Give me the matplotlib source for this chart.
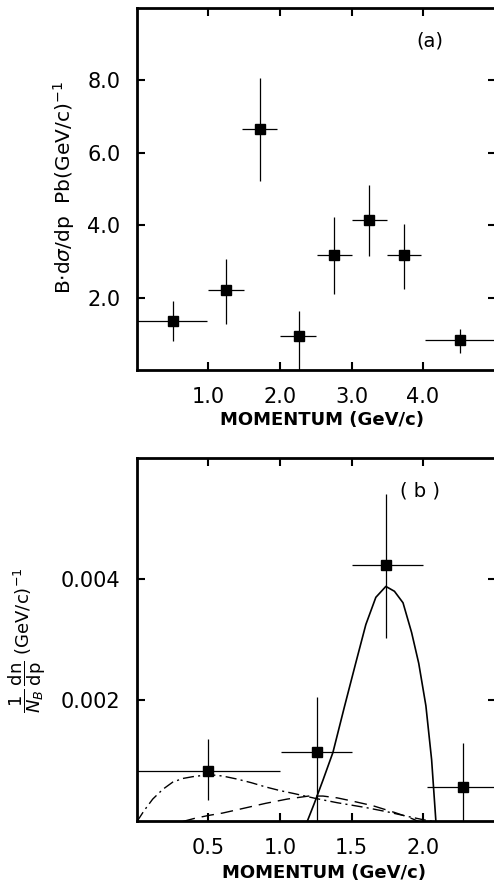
import numpy as np
import matplotlib.pyplot as plt

# panel (a) data
a_x = [0.50, 1.25, 1.72, 2.26, 2.75, 3.24, 3.73, 4.51]
a_xlo = [0.0, 1.0, 1.47, 2.0, 2.52, 3.0, 3.5, 4.03]
a_xhi = [0.98, 1.49, 1.96, 2.5, 3.0, 3.49, 3.97, 5.0]
a_y = [1.36, 2.21, 6.65, 0.94, 3.19, 4.15, 3.19, 0.82]
a_ylo = [0.80, 1.28, 5.21, 0.0, 2.09, 3.15, 2.23, 0.48]
a_yhi = [1.90, 3.07, 8.06, 1.63, 4.23, 5.12, 4.04, 1.12]

# panel (b) data
b_x = [0.50, 1.26, 1.74, 2.28]
b_xlo = [0.0, 1.01, 1.50, 2.03]
b_xhi = [1.0, 1.50, 2.00, 2.50]
b_y = [0.00084, 0.00115, 0.00424, 0.00057]
b_ylo = [0.00036, 0.0, 0.00303, 0.0]
b_yhi = [0.00136, 0.00206, 0.00541, 0.00130]

# curves in panel (b), y in units of 1e-3
solid_x = [1.19, 1.24, 1.30, 1.37, 1.45, 1.53, 1.60, 1.67, 1.74, 1.80, 1.86, 1.92, 1.97, 2.02, 2.06, 2.09]
solid_y = [0, 0.30, 0.68, 1.14, 1.89, 2.62, 3.25, 3.70, 3.88, 3.80, 3.61, 3.12, 2.61, 1.91, 1.02, 0]
dd_x = [0.0, 0.05, 0.11, 0.18, 0.25, 0.32, 0.39, 0.46, 0.52, 0.60, 0.70, 0.80, 0.90, 1.00, 1.10, 1.25, 1.40, 1.60, 1.75, 1.90, 2.00, 2.07]
dd_y = [0, 0.18, 0.37, 0.53, 0.65, 0.71, 0.74, 0.76, 0.77, 0.75, 0.70, 0.64, 0.57, 0.51, 0.46, 0.38, 0.31, 0.23, 0.16, 0.08, 0.03, 0]
dash_x = [0.32, 0.40, 0.50, 0.60, 0.75, 0.90, 1.05, 1.20, 1.30, 1.40, 1.50, 1.65, 1.80, 1.90, 1.97]
dash_y = [0, 0.05, 0.10, 0.14, 0.22, 0.30, 0.37, 0.42, 0.42, 0.39, 0.34, 0.26, 0.15, 0.07, 0]

plt.rcParams['font.family'] = 'DejaVu Sans'
plt.rcParams['mathtext.fontset'] = 'dejavusans'
fig = plt.figure(figsize=(4.94, 8.86), dpi=100)


def style(ax):
    for s in ax.spines.values():
        s.set_linewidth(2.0)
    ax.tick_params(direction='in', length=6, width=1.5, top=True, right=True,
                   labelsize=15, pad=12)


def points(ax, x, xlo, xhi, y, ylo, yhi):
    x = np.array(x); y = np.array(y)
    xerr = [x - np.array(xlo), np.array(xhi) - x]
    yerr = [y - np.array(ylo), np.array(yhi) - y]
    ax.errorbar(x, y, xerr=xerr, yerr=yerr, fmt='s', color='black', ms=7,
                elinewidth=0.9, capsize=0, clip_on=False)


# (a)
ax1 = fig.add_axes([0.2773, 0.5824, 0.7267, 0.4086])
points(ax1, a_x, a_xlo, a_xhi, a_y, a_ylo, a_yhi)
ax1.set_xlim(0, 5.02)
ax1.set_ylim(0, 10)
ax1.set_xticks([1, 2, 3, 4])
ax1.set_xticklabels(['1.0', '2.0', '3.0', '4.0'])
ax1.set_yticks([2, 4, 6, 8])
ax1.set_yticklabels(['2.0', '4.0', '6.0', '8.0'])
style(ax1)
ax1.text(4.1, 9.1, '(a)', fontsize=14, ha='center', va='center')
ax1.set_xlabel('MOMENTUM (GeV/c)', fontsize=13, fontweight='bold')
ax1.xaxis.set_label_coords(0.515, -0.113)
ax1.set_ylabel(r'B$\cdot$d$\sigma$/dp  Pb(GeV/c)$^{-1}$', fontsize=14.5)
ax1.yaxis.set_label_coords(-0.167, 0.505)

# (b)
ax2 = fig.add_axes([0.2773, 0.0728, 0.7267, 0.4103])
points(ax2, b_x, b_xlo, b_xhi, b_y, b_ylo, b_yhi)
ax2.plot(solid_x, np.array(solid_y) * 1e-3, color='black', lw=1.2)
ax2.plot(dd_x, np.array(dd_y) * 1e-3, color='black', lw=1.0, dashes=[8, 3, 1.5, 3])
ax2.plot(dash_x, np.array(dash_y) * 1e-3, color='black', lw=1.0, dashes=[9, 5])
ax2.set_xlim(0, 2.51)
ax2.set_ylim(0, 0.006)
ax2.set_xticks([0.5, 1.0, 1.5, 2.0])
ax2.set_xticklabels(['0.5', '1.0', '1.5', '2.0'])
ax2.set_yticks([0.002, 0.004])
ax2.set_yticklabels(['0.002', '0.004'])
style(ax2)
ax2.text(1.98, 0.00545, '( b )', fontsize=14, ha='center', va='center')
ax2.set_xlabel('MOMENTUM (GeV/c)', fontsize=13, fontweight='bold')
ax2.xaxis.set_label_coords(0.52, -0.117)
ax2.set_ylabel(r'$\dfrac{1}{N_B}\,\dfrac{\mathrm{dn}}{\mathrm{dp}}$ (GeV/c)$^{-1}$', fontsize=13)
ax2.yaxis.set_label_coords(-0.248, 0.50)

plt.savefig('out.png', dpi=100)
